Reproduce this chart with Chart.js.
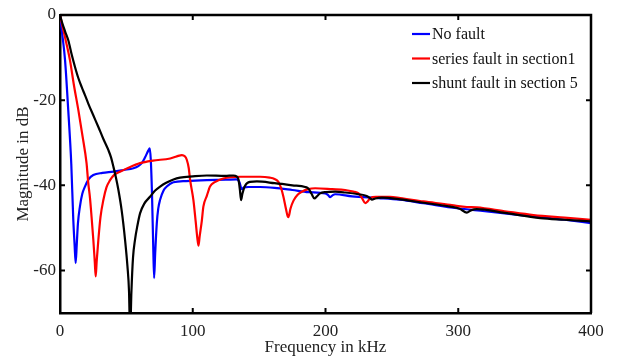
<!DOCTYPE html>
<html>
<head>
<meta charset="utf-8">
<script src="https://cdn.jsdelivr.net/npm/chart.js@4/dist/chart.umd.min.js"></script>
<style>
  html, body { margin: 0; padding: 0; background: #fff; }
  #wrap { width: 617px; height: 361px; }
</style>
</head>
<body>
<div id="wrap"><canvas id="fra-chart" width="617" height="361"></canvas></div>
<script>
// Series (frequency in kHz, magnitude in dB)
const seriesNames = ["No fault", "series fault in section1", "shunt fault in section 5"];

const noFaultKHz = [0, 1.5, 3.8, 6.2, 8.5, 10, 11, 11.8, 12.6, 13.5, 15, 16.8, 18.8, 21.5, 25.1, 32, 40.2, 48, 55.3, 59, 61.6, 64, 66.6, 67.6, 68.4, 69.3, 70.2, 70.9, 71.7, 72.9, 74, 75.4, 78, 80.4, 85.4, 95, 110.6, 125, 133, 135.2, 136.9, 138.5, 142, 150.7, 161.6, 175, 187.2, 199.9, 202, 203.5, 205.5, 207.3, 220, 239.9, 256, 273.6, 299, 320, 340, 356.5, 380, 400];
const noFaultDB = [0, -4, -10.6, -22.3, -35, -48, -54, -58.3, -54, -49, -45, -42, -40.3, -38.6, -37.6, -37.1, -36.8, -36.4, -36, -35.5, -34.8, -33.5, -31.8, -31.3, -34, -42, -54, -61.8, -56, -49, -45.5, -43.4, -41.2, -40.3, -39.3, -39, -38.8, -38.7, -38.6, -39.3, -40.9, -40.5, -40.4, -40.4, -40.6, -41.1, -41.6, -41.9, -42.3, -42.8, -42.3, -42.1, -42.6, -43, -43.4, -44.2, -45.4, -46.1, -46.8, -47.3, -48.1, -48.9];

const seriesKHz = [0, 2, 4.5, 7.5, 10.5, 13.8, 17, 20, 21.3, 22.6, 23.8, 25.1, 26.2, 26.9, 27.6, 28.9, 30.5, 32.7, 35, 37.7, 41, 45.2, 52, 60.3, 70, 83, 88, 91.9, 94, 95.5, 97, 98, 100.5, 102.2, 103.5, 104.3, 105.2, 106.8, 108, 110.6, 113, 117, 123, 135.7, 150.7, 158, 161.6, 164.5, 166.6, 168.3, 170.2, 171.8, 172.6, 173.6, 175.9, 179, 182.2, 187, 192.2, 205, 214.8, 221, 224.9, 227.5, 230, 231.7, 233.7, 238, 248.7, 256.3, 273.8, 293.9, 300, 306.5, 314, 335, 356.7, 380, 400];
const seriesDB = [0, -2.8, -6.2, -10.6, -16.5, -22.3, -28.5, -34.8, -39.5, -43, -47.5, -52.8, -58, -61.4, -58, -52.8, -47.5, -43.4, -40.5, -38.8, -37.5, -36.8, -35.8, -34.8, -34.2, -33.7, -33.2, -32.9, -33.2, -34, -36, -38.7, -43.5, -48.5, -52.5, -54.2, -52, -48.4, -45, -42.5, -40.3, -39.2, -38.4, -38, -38, -38.2, -38.5, -39.2, -40.7, -42.7, -45.5, -47.5, -47, -45.5, -43.6, -42.2, -41.5, -40.9, -40.7, -40.9, -41.1, -41.5, -41.9, -43, -44.2, -43.8, -43, -42.7, -42.7, -43, -43.8, -44.6, -44.9, -45.1, -45.2, -46.1, -47, -47.6, -48.1];

const shuntKHz = [0, 2, 4, 6.3, 8.8, 11.3, 13.8, 16.3, 18.8, 21.3, 25, 28.9, 32.5, 36.4, 38.5, 40.2, 42, 44, 46.5, 49, 50.8, 52, 52.8, 53.8, 55, 56.5, 58.3, 60.3, 63.5, 67.8, 71.5, 75.4, 80, 85, 90.4, 100, 110.6, 124.4, 130.6, 133, 134.4, 135.5, 136.4, 137.4, 139.4, 143, 148.3, 161.6, 175, 184.7, 187.2, 189.5, 191.7, 193.5, 196, 200, 207.3, 215, 224.9, 231, 233.5, 235, 237.5, 242.5, 256.3, 273.8, 294, 301, 306.5, 309.5, 314, 335, 361.8, 380, 400];
const shuntDB = [0, -2.2, -4, -6, -9.3, -12.2, -14.8, -16.9, -18.8, -20.8, -23.5, -26.3, -29, -31.7, -33.5, -35.6, -38, -41.1, -46, -52.8, -59, -65, -75, -65, -57, -52.8, -49.5, -46.6, -44.3, -42.7, -41.3, -40.3, -39.4, -38.7, -38.2, -37.9, -37.7, -37.8, -37.7, -37.9, -38.6, -41, -43.5, -42, -40.1, -39.2, -39.1, -39.5, -40, -40.4, -40.8, -42, -43.1, -42.6, -41.9, -41.6, -41.5, -41.7, -42.1, -42.5, -43, -43.4, -43.1, -42.9, -43.3, -44.1, -45, -45.5, -46.4, -45.9, -45.6, -46.5, -47.7, -48.1, -48.5];

const xTicks = [0, 100, 200, 300, 400];
const yTicks = [-60, -40, -20, 0];

const serif = "'Liberation Serif', 'DejaVu Serif', serif";

function toPoints(xs, ys) {
  return xs.map((x, i) => ({ x: x, y: ys[i] }));
}

// Box on all four sides, MATLAB style inward ticks, and the legend
const boxPlugin = {
  id: "box",
  afterDraw(chart) {
    const ctx = chart.ctx;
    const a = chart.chartArea;
    const xs = chart.scales.x;
    const ys = chart.scales.y;
    const tick = 5;
    ctx.save();
    ctx.strokeStyle = "#000";
    ctx.lineWidth = 2.5;
    ctx.beginPath();
    ctx.moveTo(a.left, a.top);
    ctx.lineTo(a.right, a.top);
    ctx.lineTo(a.right, a.bottom);
    ctx.stroke();

    ctx.lineWidth = 2;
    ctx.beginPath();
    xTicks.forEach(v => {
      const px = xs.getPixelForValue(v);
      ctx.moveTo(px, a.bottom);
      ctx.lineTo(px, a.bottom - tick);
      ctx.moveTo(px, a.top);
      ctx.lineTo(px, a.top + tick);
    });
    yTicks.forEach(v => {
      const py = ys.getPixelForValue(v);
      ctx.moveTo(a.left, py);
      ctx.lineTo(a.left + tick, py);
      ctx.moveTo(a.right, py);
      ctx.lineTo(a.right - tick, py);
    });
    ctx.stroke();

    // legend (no frame)
    const rows = [34, 58.5, 83];
    ctx.font = "16px " + serif;
    ctx.textBaseline = "middle";
    ctx.textAlign = "left";
    chart.data.datasets.forEach((ds, i) => {
      ctx.strokeStyle = ds.borderColor;
      ctx.lineWidth = 2.2;
      ctx.beginPath();
      ctx.moveTo(412, rows[i]);
      ctx.lineTo(430, rows[i]);
      ctx.stroke();
      ctx.fillStyle = "#111";
      ctx.fillText(ds.label, 432, rows[i] + 1);
    });
    ctx.restore();
  }
};

const ctx = document.getElementById("fra-chart").getContext("2d");
const fraChart = new Chart(ctx, {
  type: "line",
  data: {
    datasets: [
      {
        label: seriesNames[0],
        data: toPoints(noFaultKHz, noFaultDB),
        borderColor: "#0000ff",
        order: 3,
      },
      {
        label: seriesNames[1],
        data: toPoints(seriesKHz, seriesDB),
        borderColor: "#ff0000",
        order: 2,
      },
      {
        label: seriesNames[2],
        data: toPoints(shuntKHz, shuntDB),
        borderColor: "#000000",
        order: 1,
      },
    ],
  },
  options: {
    responsive: false,
    animation: false,
    parsing: true,
    layout: { padding: { top: 15, right: 26, left: 0, bottom: 0 } },
    elements: {
      point: { radius: 0 },
      line: { borderWidth: 2.2, cubicInterpolationMode: "monotone", fill: false },
    },
    plugins: {
      legend: { display: false },
      tooltip: { enabled: false },
    },
    scales: {
      x: {
        type: "linear",
        min: 0,
        max: 400,
        afterBuildTicks: s => { s.ticks = xTicks.map(v => ({ value: v })); },
        afterFit: s => { s.height = 48; },
        grid: { display: false, drawTicks: false },
        border: { display: true, color: "#000", width: 2.5 },
        ticks: { color: "#222", padding: 8, maxRotation: 0, font: { family: serif, size: 17 } },
        title: {
          display: true,
          text: "Frequency in kHz",
          color: "#222",
          font: { family: serif, size: 17 },
          padding: { top: 0, bottom: 3 },
        },
      },
      y: {
        type: "linear",
        min: -70,
        max: 0,
        afterBuildTicks: s => { s.ticks = yTicks.map(v => ({ value: v })); },
        afterFit: s => { s.width = 60; },
        grid: { display: false, drawTicks: false },
        border: { display: true, color: "#000", width: 2.5 },
        ticks: { color: "#222", padding: 4, font: { family: serif, size: 17 } },
        title: {
          display: true,
          text: "Magnitude in dB",
          color: "#222",
          font: { family: serif, size: 17 },
          padding: { top: 13, bottom: 0 },
        },
      },
    },
  },
  plugins: [boxPlugin],
});
</script>
</body>
</html>
